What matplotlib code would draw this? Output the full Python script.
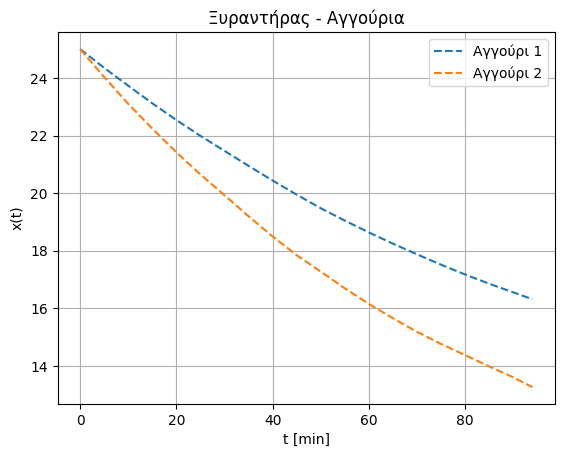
import matplotlib
matplotlib.use("Agg")
import matplotlib.pyplot as plt

t = [0, 5, 10, 15, 20, 25, 30, 35, 40, 45, 50, 55, 60, 65, 70, 75, 80, 85, 90, 94]
x1 = [25.0, 24.35, 23.73, 23.12, 22.54, 21.99, 21.47, 20.95, 20.44, 19.95,
      19.48, 19.05, 18.64, 18.25, 17.88, 17.52, 17.18, 16.86, 16.56, 16.32]
x2 = [25.0, 24.03, 23.10, 22.24, 21.42, 20.65, 19.93, 19.20, 18.50, 17.85,
      17.28, 16.70, 16.16, 15.66, 15.19, 14.77, 14.38, 13.99, 13.61, 13.27]
labels = ["Αγγούρι 1", "Αγγούρι 2"]

fig = plt.figure(figsize=(5.63, 4.55), dpi=100)
ax = fig.add_axes([0.1023, 0.1121, 0.8835, 0.8169])
ax.plot(t, x1, "--", color="#1f77b4", label=labels[0])
ax.plot(t, x2, "--", color="#ff7f0e", label=labels[1])
ax.set_title("Ξυραντήρας - Αγγούρια")
ax.set_xlabel("t [min]")
ax.set_ylabel("x(t)")
ax.grid(True)
ax.legend(loc="upper right")
fig.savefig("out.png", dpi=100)
